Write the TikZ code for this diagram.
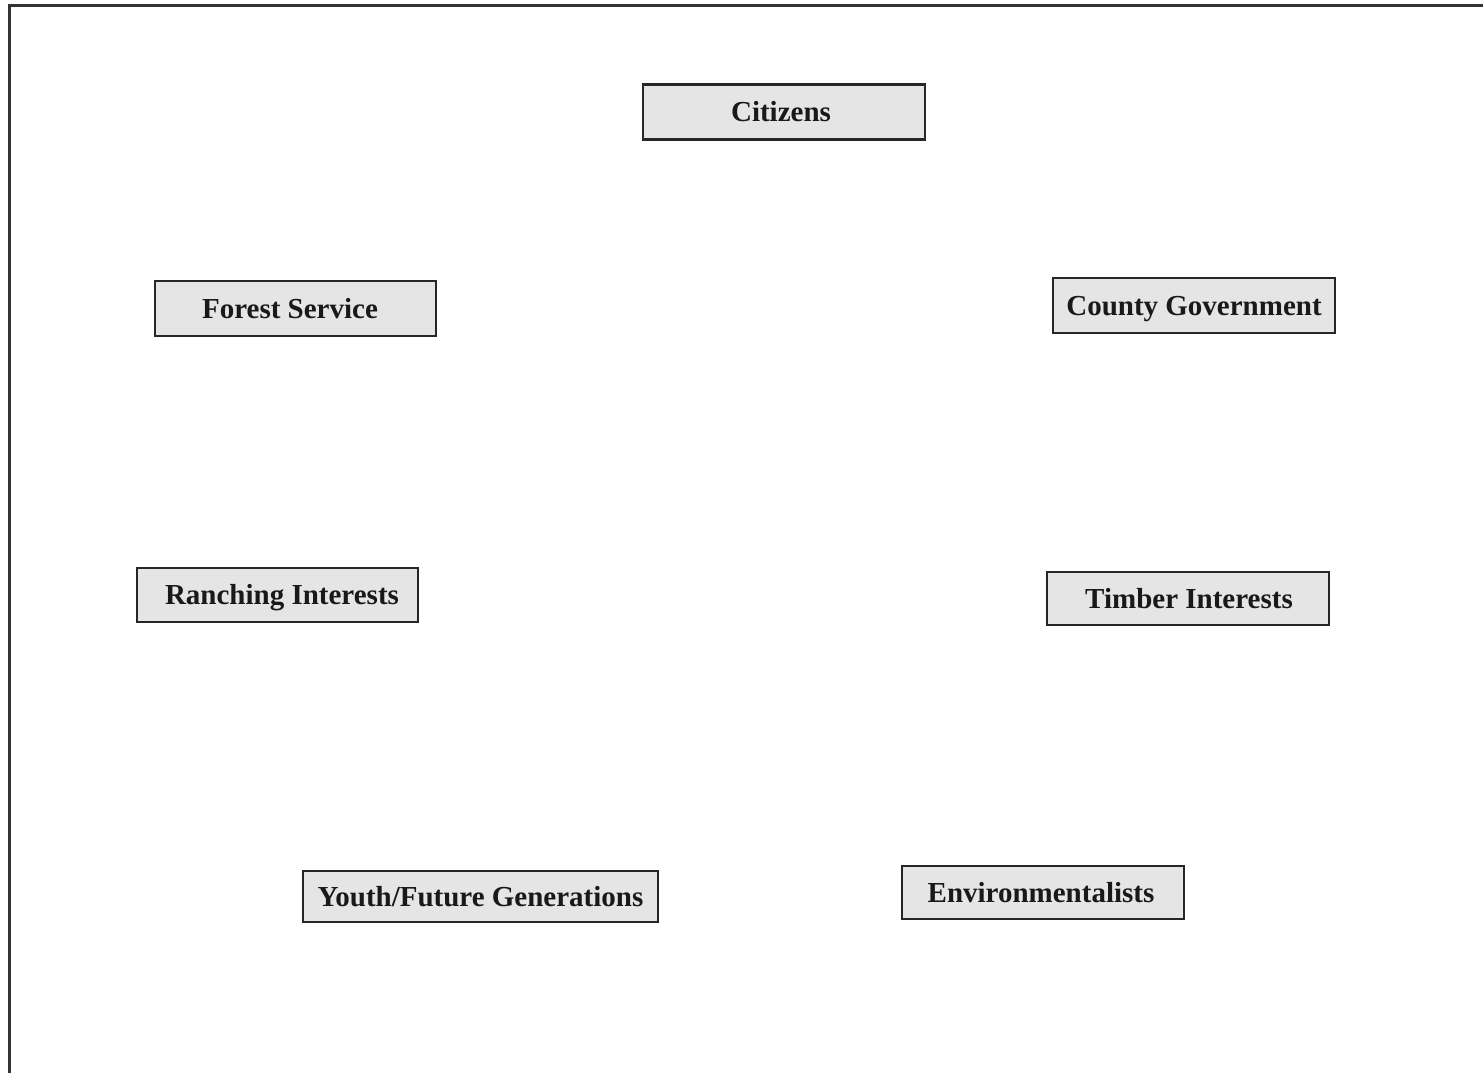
\documentclass[tikz,border=0pt]{standalone}
\usepackage{fontspec}
\setmainfont{Liberation Serif}
\begin{document}
\begin{tikzpicture}[x=1pt,y=-1pt,
  actor/.style={draw=black!85, line width=2.5pt, fill=black!10,
    inner sep=0pt, text height=25pt, text depth=6pt,
    font=\fontsize{29}{34}\selectfont\bfseries, text=black!90}]
\useasboundingbox (0,0) rectangle (1483,1072);
\clip (0,0) rectangle (1483,1072);
% outer frame (top and left edges)
\draw[line width=3pt, black!80] (1490,5) -- (9,5) -- (9,1080);
% stakeholder boxes
\node[actor, minimum width=282pt, minimum height=55pt] (cit) at (784,112) {\hspace*{-6pt}Citizens};
\node[actor, minimum width=281pt, minimum height=55pt] (fs) at (295.5,308.5) {\hspace*{-11pt}Forest Service};
\node[actor, minimum width=282pt, minimum height=55pt] (cg) at (1194,305.5) {County Government};
\node[actor, minimum width=281pt, minimum height=54pt] (ri) at (277.5,595) {Ranching Interests\hspace*{-9pt}};
\node[actor, minimum width=282pt, minimum height=53pt] (ti) at (1188,598.5) {Timber Interests\hspace*{-2pt}};
\node[actor, minimum width=355pt, minimum height=51pt] (yf) at (480.5,896.5) {Youth/Future Generations};
\node[actor, minimum width=282pt, minimum height=53pt] (env) at (1043,892.5) {\hspace*{-4pt}Environmentalists};
\end{tikzpicture}
\end{document}
